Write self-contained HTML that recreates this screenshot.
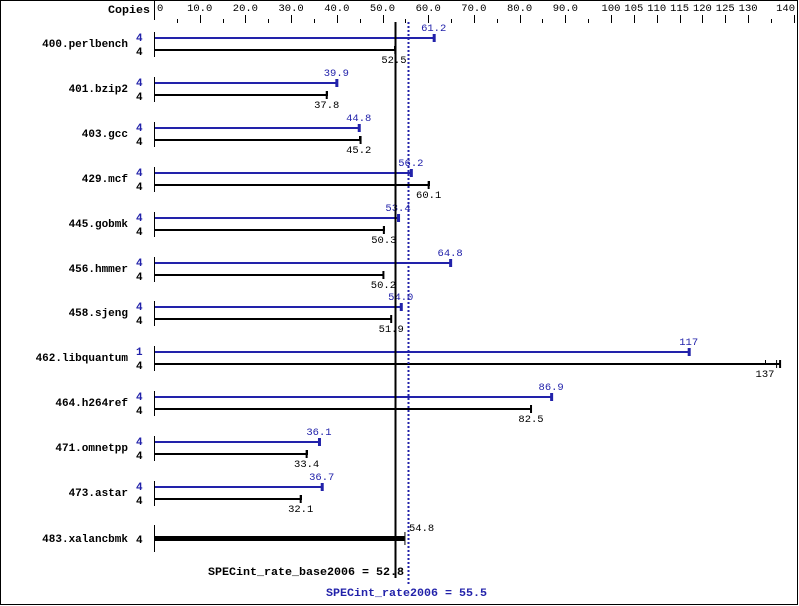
<!DOCTYPE html>
<html><head><meta charset="utf-8"><style>html,body{margin:0;padding:0;background:#fff}svg{display:block}</style></head>
<body>
<svg id="s" width="799" height="606" xmlns="http://www.w3.org/2000/svg" font-family="Liberation Mono, DejaVu Sans Mono, monospace"></svg>
<script>
var S=document.getElementById('s');var h='';
function X(v){return 154+4.57*v;}
h+='<rect x="0.5" y="0.5" width="797" height="604" fill="none" stroke="#000"/>';
h+='<text x="108" y="13" font-size="11" font-weight="bold" textLength="42" lengthAdjust="spacingAndGlyphs">Copies</text>';
h+='<line x1="154.5" y1="0" x2="154.5" y2="20" stroke="#000"/>';
var labs=[[0,'0'],[10,'10.0'],[20,'20.0'],[30,'30.0'],[40,'40.0'],[50,'50.0'],[60,'60.0'],[70,'70.0'],[80,'80.0'],[90,'90.0'],[100,'100'],[105,'105'],[110,'110'],[115,'115'],[120,'120'],[125,'125'],[130,'130'],[140,'140']];
labs.forEach(function(l){var x=X(l[0]);if(l[0]==0){h+='<text x="157" y="11" font-size="10.5">0</text>';}else if(l[0]==140){h+='<text x="795" y="11" font-size="10.5" text-anchor="end">140</text>';}else{h+='<text x="'+x+'" y="11" font-size="10.5" text-anchor="middle">'+l[1]+'</text>';}
if(l[0]>0)h+='<line x1="'+(Math.round(x)+.5)+'" y1="15" x2="'+(Math.round(x)+.5)+'" y2="23" stroke="#000"/>';});
[5,15,25,35,45,55,65,75,85,95,135].forEach(function(v){var x=Math.round(X(v))+.5;h+='<line x1="'+x+'" y1="19" x2="'+x+'" y2="23" stroke="#000"/>';});
var rows=[['400.perlbench',61.2,'61.2',52.8,52.5,'52.5','4'],['401.bzip2',39.9,'39.9',37.8,37.8,'37.8','4'],['403.gcc',44.8,'44.8',45.2,44.8,'45.2','4'],['429.mcf',56.2,'56.2',60.1,60.1,'60.1','4'],['445.gobmk',53.4,'53.4',50.3,50.3,'50.3','4'],['456.hmmer',64.8,'64.8',50.2,50.2,'50.2','4'],['458.sjeng',54.0,'54.0',51.9,51.9,'51.9','4'],['462.libquantum',117,'117',137,133.7,'137','1'],['464.h264ref',86.9,'86.9',82.5,82.5,'82.5','4'],['471.omnetpp',36.1,'36.1',33.4,33.4,'33.4','4'],['473.astar',36.7,'36.7',32.1,32.1,'32.1','4']];
var B='#2222aa';
rows.forEach(function(r,i){var yb=Math.round(38+44.9*i),yk=yb+12;
h+='<text x="128" y="'+(yb+9)+'" font-size="11" font-weight="bold" text-anchor="end">'+r[0]+'</text>';
h+='<text x="136" y="'+(yb+3)+'" font-size="11" font-weight="bold" fill="'+B+'">'+r[6]+'</text>';
h+='<text x="136" y="'+(yk+5)+'" font-size="11" font-weight="bold">4</text>';
h+='<line x1="154.5" y1="'+(yb-6)+'" x2="154.5" y2="'+(yk+7)+'" stroke="#000"/>';
var xb=X(r[1]);h+='<rect x="155" y="'+(yb-1)+'" width="'+(xb-155)+'" height="2" fill="'+B+'"/><rect x="'+(xb-1)+'" y="'+(yb-4)+'" width="3" height="8" fill="'+B+'"/>';
h+='<text x="'+xb+'" y="'+(yb-7)+'" font-size="10.5" text-anchor="middle" fill="'+B+'">'+r[2]+'</text>';
var xk=X(r[3]);h+='<rect x="155" y="'+(yk-1)+'" width="'+(xk-155)+'" height="2" fill="#000"/><rect x="'+(xk-1)+'" y="'+(yk-4)+'" width="2" height="8" fill="#000"/>';
var xm=Math.round(X(r[4]))+.5;h+='<line x1="'+xm+'" y1="'+(yk-4)+'" x2="'+xm+'" y2="'+(yk+1)+'" stroke="#000"/>';
if(i==7)h+='<rect x="'+(xk-4)+'" y="'+(yk-4)+'" width="1" height="8" fill="#000"/>';
h+='<text x="'+X(r[4])+'" y="'+(yk+13)+'" font-size="10.5" text-anchor="middle">'+r[5]+'</text>';});
var yx=538;
h+='<text x="128" y="'+(yx+4)+'" font-size="11" font-weight="bold" text-anchor="end">483.xalancbmk</text>';
h+='<text x="136" y="'+(yx+5)+'" font-size="11" font-weight="bold">4</text>';
h+='<line x1="154.5" y1="'+(yx-13)+'" x2="154.5" y2="'+(yx+14)+'" stroke="#000"/>';
h+='<rect x="155" y="'+(yx-2)+'" width="'+(X(54.8)-155)+'" height="5" fill="#000"/><rect x="'+X(54.8)+'" y="'+(yx-6)+'" width="1" height="13" fill="#000"/>';
h+='<text x="409" y="531" font-size="10.5">54.8</text>';
var xs=Math.round(X(52.8))+.5;h+='<rect x="'+(xs-1)+'" y="22" width="2" height="556" fill="#000"/>';
var xp=Math.round(X(55.5))+.5;h+='<line x1="'+xp+'" y1="22" x2="'+xp+'" y2="586" stroke="'+B+'" stroke-width="2" stroke-dasharray="2,2"/>';
h+='<text x="208" y="575" font-size="11" font-weight="bold" textLength="196" lengthAdjust="spacingAndGlyphs">SPECint_rate_base2006 = 52.8</text>';
h+='<text x="326" y="596" font-size="11" font-weight="bold" fill="'+B+'" textLength="161" lengthAdjust="spacingAndGlyphs">SPECint_rate2006 = 55.5</text>';
S.innerHTML=h;
</script>
</body></html>
